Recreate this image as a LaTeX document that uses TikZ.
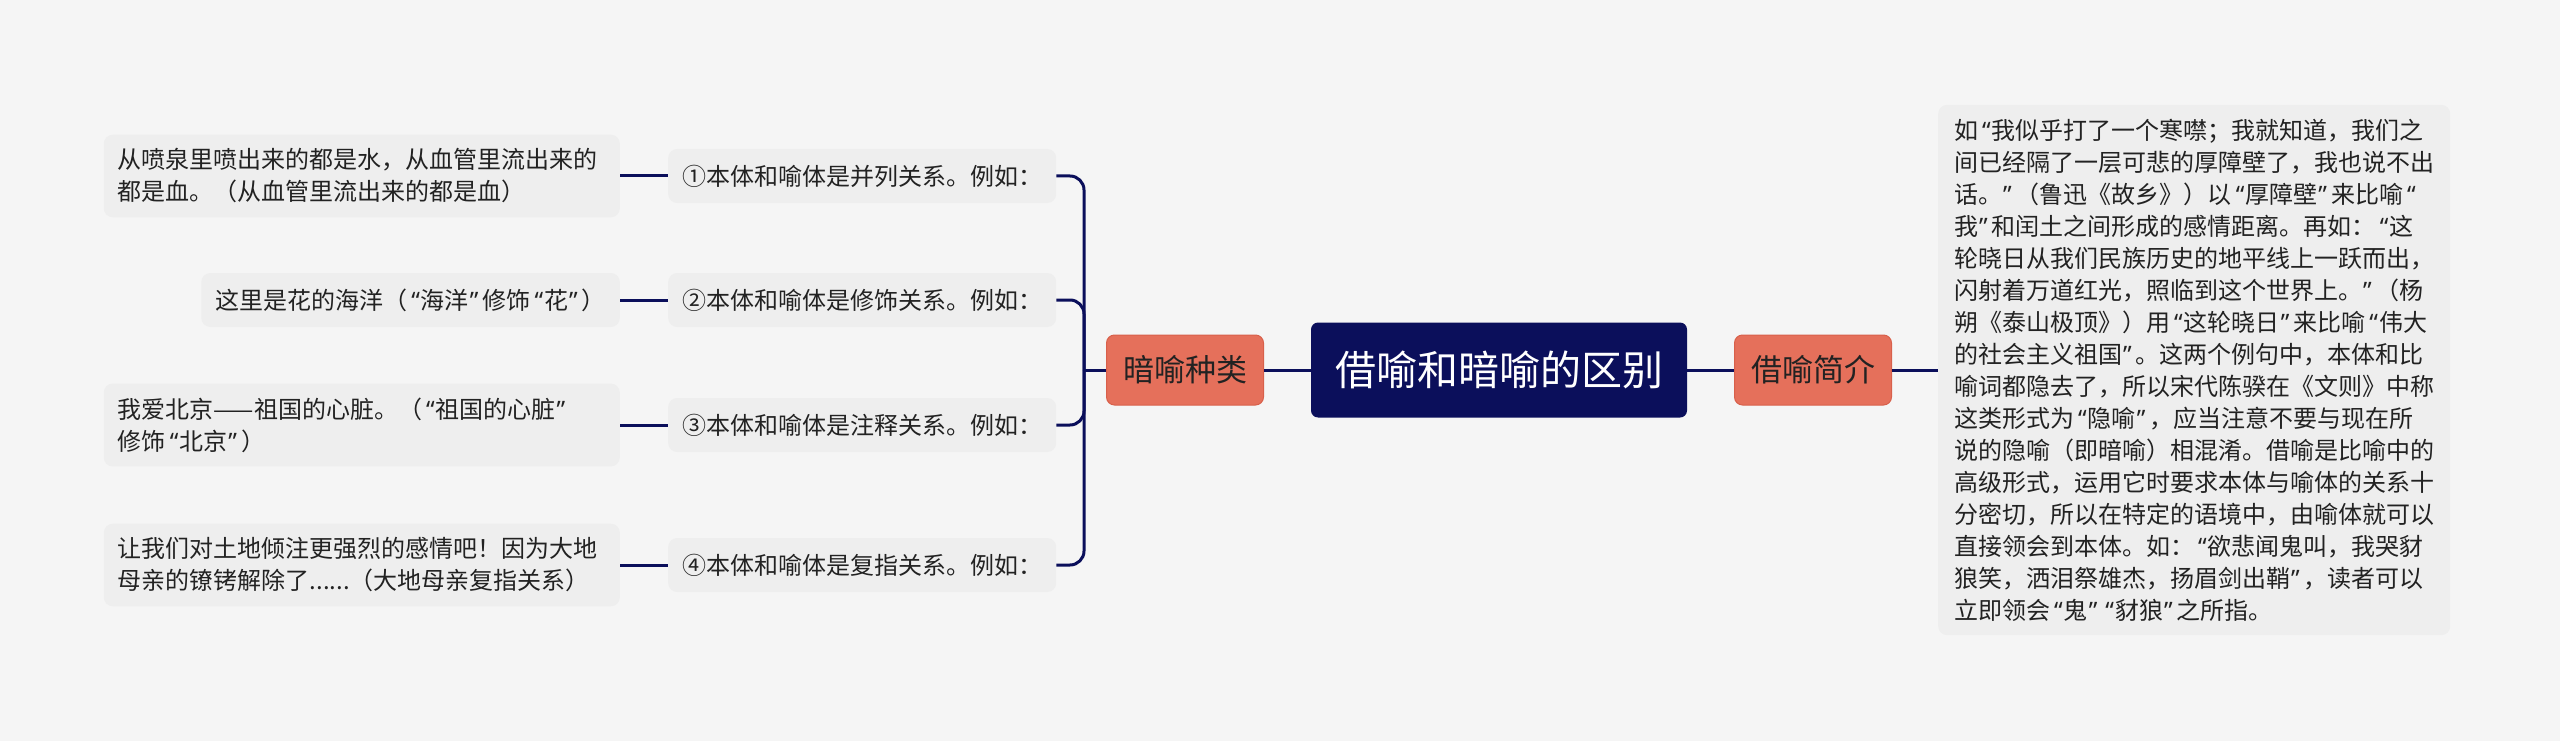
\documentclass[tikz,border=0pt]{standalone}
\usepackage{fontspec}
\setmainfont{Noto Sans CJK SC}
\newfontfamily\quotefont{Noto Sans}
\newcommand\oq{{\kern4pt\quotefont “\kern1pt}}
\newcommand\cq{{\kern1pt\quotefont ”\kern4pt}}
\usepackage{xcolor}
\usepackage{tikz}
\usetikzlibrary{positioning}

\definecolor{rootblue}{HTML}{0B0F5B}
\definecolor{topiccoral}{HTML}{E5705B}
\definecolor{topicedge}{HTML}{D8604B}
\definecolor{boxgray}{HTML}{EEEEEE}
\definecolor{pagegray}{HTML}{F5F5F5}
\definecolor{inkgray}{HTML}{222222}

\tikzset{
	rootbox/.style={fill=rootblue,text=white,rounded corners=7pt,minimum width=376pt,minimum height=95pt,font=\fontsize{41}{49}\selectfont},
	topicbox/.style={fill=topiccoral,draw=topicedge,line width=1pt,rounded corners=8pt,text=inkgray,minimum width=157pt,minimum height=70pt,font=\fontsize{31}{37}\selectfont},
	subbox/.style={fill=boxgray,rounded corners=9pt,text=inkgray,inner xsep=14pt,inner ysep=14pt,minimum height=54pt,font=\fontsize{24}{32}\selectfont},
	leafbox/.style={subbox,align=left},
	linkline/.style={draw=rootblue,line width=3pt},
}

\begin{document}
\begin{tikzpicture}[x=1pt,y=-1pt]
			
			\fill[pagegray] (0,0) rectangle (2560,741);
			\useasboundingbox (0,0) rectangle (2560,741);
			
			\node[rootbox] (root) at (1499,370) {借喻和暗喻的区别};
			\node[topicbox] (kinds) at (1185,370) {暗喻种类};
			\node[topicbox] (intro) at (1813,370) {借喻简介};
			
			\node[leafbox,anchor=west,inner xsep=16pt] (introtext) at (1938,370) {如\oq 我似乎打了一个寒噤；我就知道，我们之\\间已经隔了一层可悲的厚障壁了，我也说不出\\话。\cq（鲁迅《故乡》）以\oq 厚障壁\cq 来比喻\oq\\我\cq 和闰土之间形成的感情距离。再如：\oq 这\\轮晓日从我们民族历史的地平线上一跃而出，\\闪射着万道红光，照临到这个世界上。\cq（杨\\朔《泰山极顶》）用\oq 这轮晓日\cq 来比喻\oq 伟大\\的社会主义祖国\cq。这两个例句中，本体和比\\喻词都隐去了，所以宋代陈骙在《文则》中称\\这类形式为\oq 隐喻\cq，应当注意不要与现在所\\说的隐喻（即暗喻）相混淆。借喻是比喻中的\\高级形式，运用它时要求本体与喻体的关系十\\分密切，所以在特定的语境中，由喻体就可以\\直接领会到本体。如：\oq 欲悲闻鬼叫，我哭豺\\狼笑，洒泪祭雄杰，扬眉剑出鞘\cq，读者可以\\立即领会\oq 鬼\cq\oq 豺狼\cq 之所指。};
			
			\node[subbox,anchor=west] (type1) at (668,176) {①本体和喻体是并列关系。例如：};
			\node[subbox,anchor=west] (type2) at (668,300) {②本体和喻体是修饰关系。例如：};
			\node[subbox,anchor=west] (type3) at (668,425) {③本体和喻体是注释关系。例如：};
			\node[subbox,anchor=west] (type4) at (668,565) {④本体和喻体是复指关系。例如：};
			
			\node[leafbox,text width=488pt,left=48pt of type1] (ex1) {从喷泉里喷出来的都是水，从血管里流出来的\\都是血。（从血管里流出来的都是血）};
			\node[leafbox,left=48pt of type2] (ex2) {这里是花的海洋（\oq 海洋\cq 修饰\oq 花\cq）};
			\node[leafbox,text width=488pt,left=48pt of type3] (ex3) {我爱北京——祖国的心脏。（\oq 祖国的心脏\cq\\修饰\oq 北京\cq）};
			\node[leafbox,text width=488pt,left=48pt of type4] (ex4) {让我们对土地倾注更强烈的感情吧！因为大地\\母亲的镣铐解除了......（大地母亲复指关系）};
			
			\coordinate (bus) at (1084,370);
			
			\draw[linkline] (kinds.east) -- (root.west);
			\draw[linkline] (root.east) -- (intro.west);
			\draw[linkline] (intro.east) -- (introtext.west);
			\draw[linkline] (kinds.west) -- (bus);
			\foreach \i in {1,...,4} {
				\draw[linkline,rounded corners=14pt] (bus) |- (type\i.east);
				\draw[linkline] (ex\i.east) -- (type\i.west);
			}
			
		\end{tikzpicture}
\end{document}
